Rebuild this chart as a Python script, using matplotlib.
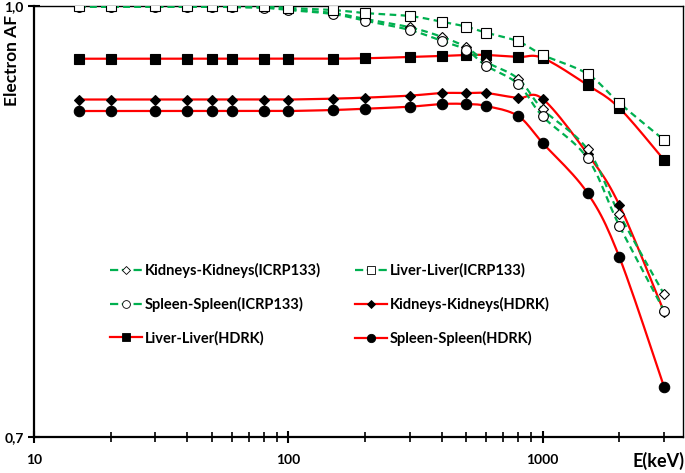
import numpy as np
import matplotlib.pyplot as plt
from matplotlib.ticker import FixedLocator, NullFormatter

# Photon/electron energies (keV)
energy = [15, 20, 30, 40, 50, 60, 80, 100, 150, 200, 300, 400, 500, 600, 800, 1000, 1500, 2000, 3000]

# Electron absorbed fractions
kidneys_icrp = [0.9995, 0.9995, 0.9995, 0.9995, 0.9995, 0.9993, 0.9990, 0.9976, 0.9951, 0.9910, 0.9852,
                0.9786, 0.9713, 0.9610, 0.9494, 0.9281, 0.9002, 0.8552, 0.7993]
liver_icrp = [0.9999, 0.9999, 0.9999, 0.9999, 0.9999, 0.9999, 0.9997, 0.9986, 0.9972, 0.9951, 0.9930,
              0.9891, 0.9856, 0.9814, 0.9754, 0.9659, 0.9527, 0.9325, 0.9067]
spleen_icrp = [0.9995, 0.9995, 0.9995, 0.9995, 0.9995, 0.9992, 0.9988, 0.9972, 0.9944, 0.9898, 0.9833,
               0.9758, 0.9694, 0.9584, 0.9457, 0.9231, 0.8940, 0.8471, 0.7879]
kidneys_hdrk = [0.9349, 0.9349, 0.9349, 0.9349, 0.9349, 0.9349, 0.9349, 0.9349, 0.9355, 0.9362, 0.9376,
                0.9394, 0.9394, 0.9394, 0.9360, 0.9353, 0.8970, 0.8615, 0.7870]
liver_hdrk = [0.9633, 0.9633, 0.9633, 0.9633, 0.9633, 0.9633, 0.9633, 0.9633, 0.9633, 0.9636, 0.9645,
              0.9652, 0.9659, 0.9659, 0.9645, 0.9638, 0.9450, 0.9290, 0.8928]
spleen_hdrk = [0.9269, 0.9269, 0.9269, 0.9269, 0.9269, 0.9269, 0.9269, 0.9269, 0.9276, 0.9285, 0.9299,
               0.9318, 0.9318, 0.9304, 0.9234, 0.9046, 0.8698, 0.8253, 0.7348]

green = '#00B050'
red = '#FF0000'
plt.rcParams['font.family'] = ['Lato', 'DejaVu Sans']
plt.rcParams['font.weight'] = 'bold'


def smooth(x, y, n=12):
    # Catmull-Rom curve through the points (log x), like Excel's smoothed lines
    lx = np.log10(x)
    y = np.asarray(y, dtype=float)
    px = np.concatenate([[lx[0]], lx, [lx[-1]]])
    py = np.concatenate([[y[0]], y, [y[-1]]])
    xs, ys = [], []
    t = np.linspace(0, 1, n, endpoint=False)
    for i in range(1, len(px) - 2):
        for p, out in ((px, xs), (py, ys)):
            p0, p1, p2, p3 = p[i - 1], p[i], p[i + 1], p[i + 2]
            out.extend(0.5 * (2 * p1 + (-p0 + p2) * t + (2 * p0 - 5 * p1 + 4 * p2 - p3) * t ** 2
                              + (-p0 + 3 * p1 - 3 * p2 + p3) * t ** 3))
    xs.append(lx[-1])
    ys.append(y[-1])
    return 10 ** np.array(xs), np.array(ys)


fig = plt.figure(figsize=(6.85, 4.73), dpi=100)
ax = fig.add_axes([34 / 685, 36 / 473, 649 / 685, 431 / 473])

series = [
    (kidneys_icrp, 'Kidneys-Kidneys(ICRP133)', green, '--', 'D', 'white', 5),
    (spleen_icrp, 'Spleen-Spleen(ICRP133)', green, '--', 'o', 'white', 7),
    (liver_hdrk, 'Liver-Liver(HDRK)', red, '-', 's', 'black', 7.5),
    (liver_icrp, 'Liver-Liver(ICRP133)', green, '--', 's', 'white', 7),
    (kidneys_hdrk, 'Kidneys-Kidneys(HDRK)', red, '-', 'D', 'black', 5.5),
    (spleen_hdrk, 'Spleen-Spleen(HDRK)', red, '-', 'o', 'black', 7.5),
]

handles = []
for vals, label, col, ls, mk, fc, ms in series:
    sx, sy = smooth(energy, vals)
    z = 3 if col == green else 2
    ax.plot(sx, sy, color=col, linestyle=ls, linewidth=1.6, zorder=z, dashes=(3, 2) if ls == '--' else (None, None))
    ax.plot(energy, vals, linestyle='none', marker=mk, markersize=ms, markerfacecolor=fc,
            markeredgecolor='black', markeredgewidth=0.8, zorder=z + 2)
    h, = ax.plot([], [], color=col, linestyle=ls, linewidth=1.6, marker=mk, markersize=ms * 0.8,
                 markerfacecolor=fc, markeredgecolor='black', markeredgewidth=0.6, label=label)
    handles.append(h)

ax.set_xscale('log')
ax.set_xlim(10, 3560)
ax.set_ylim(0.7, 1.0)

ax.xaxis.set_major_locator(FixedLocator([10, 100, 1000]))
ax.xaxis.set_minor_locator(FixedLocator([k * d for d in (10, 100, 1000) for k in range(2, 10) if k * d < 3560]))
ax.xaxis.set_minor_formatter(NullFormatter())
ax.set_xticklabels(['10', '100', '1000'])
ax.set_yticks([0.7, 1.0])
ax.set_yticklabels(['0,7', '1,0'])
ax.tick_params(axis='both', which='major', direction='inout', length=9, width=1.5, labelsize=10)
ax.tick_params(axis='x', which='minor', direction='inout', length=7, width=1.2)
ax.tick_params(axis='x', pad=8)
ax.tick_params(axis='y', pad=3)

for s in ('left', 'bottom'):
    ax.spines[s].set_linewidth(1.6)
for s in ('top', 'right'):
    ax.spines[s].set_linewidth(1.0)

fig.text(12 / 685, 1 - 60 / 473, 'Electron AF', rotation=90, ha='center', va='center',
         fontsize=12.5, fontweight='bold')
fig.text(684 / 685, 1 - 461 / 473, 'E(keV)', ha='right', va='center', fontsize=13, fontweight='bold')

ax.legend(handles=handles, ncol=2, loc='upper left', bbox_to_anchor=(0.097, 0.435), frameon=False,
          fontsize=10.5, handlelength=2.2, handletextpad=0.2, columnspacing=2.3, labelspacing=1.3)

fig.savefig('out.png', dpi=100)
